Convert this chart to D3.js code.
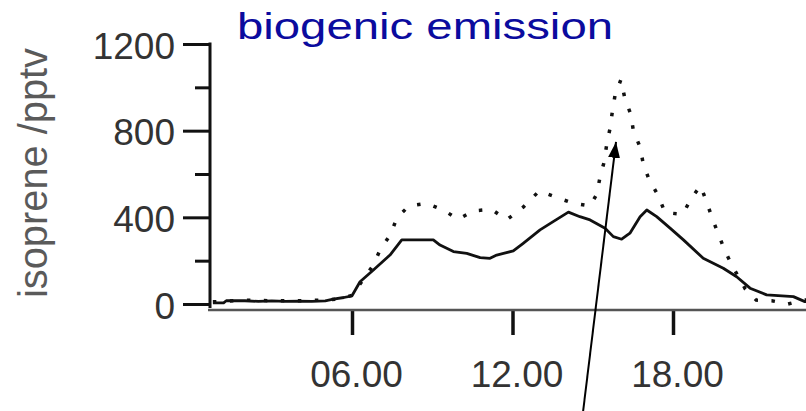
<!DOCTYPE html>
<html>
<head>
<meta charset="utf-8">
<script src="https://cdn.jsdelivr.net/npm/d3@7"></script>
<style>
  html, body { margin: 0; padding: 0; background: #fff; }
  svg { display: block; font-family: "Liberation Sans", Arial, Helvetica, sans-serif; }
</style>
</head>
<body>
<svg id="chart" width="806" height="411"></svg>
<script>
// ---- data ----
const title = "biogenic emission";
const yTitle = "isoprene /pptv";
const yMajorTicks = [0, 400, 800, 1200];
const yMinorTicks = [200, 600, 1000];
const xTicks = [6, 12, 18];

// solid line (hours, pptv)
const solidHours = [0.8, 1.2, 1.3, 2.0, 2.5, 3.0, 3.5, 4.0, 4.5, 5.0, 5.3, 5.7, 6.0, 6.3, 6.8, 7.42, 7.86, 9.04, 9.29, 9.79, 10.29, 10.79, 11.16, 11.41, 12.03, 12.4, 13.03, 13.52, 14.09, 14.52, 14.9, 15.46, 15.77, 16.08, 16.39, 16.77, 17.02, 17.39, 17.89, 18.39, 19.13, 19.88, 20.38, 20.88, 21.5, 22.5, 22.93, 23.3];
const solidValues = [5, 5, 15, 15, 12, 14, 12, 13, 12, 14, 22, 30, 38, 103, 157, 226, 296, 296, 272, 242, 234, 214, 211, 226, 245, 280, 342, 380, 424, 403, 388, 350, 311, 299, 327, 403, 434, 403, 350, 296, 211, 165, 126, 73, 42, 34, 11, 8];

// dotted line (hours, pptv)
const dotHours = [0.8, 2.0, 3.0, 4.0, 5.0, 5.6, 6.0, 6.4, 6.8, 7.05, 7.45, 7.67, 8.13, 8.79, 9.41, 9.97, 10.55, 11.22, 11.78, 12.4, 13.0, 13.62, 14.27, 14.9, 15.15, 15.27, 15.42, 15.52, 15.64, 15.73, 15.83, 16.05, 16.2, 16.42, 16.52, 16.77, 16.89, 17.1, 17.45, 17.7, 18.36, 18.7, 19.03, 19.26, 19.48, 19.72, 19.94, 20.25, 20.7, 21.11, 21.69, 22.3, 22.86, 23.3];
const dotValues = [10, 18, 15, 15, 18, 25, 40, 110, 180, 250, 323, 396, 453, 465, 434, 391, 430, 437, 388, 447, 522, 493, 465, 453, 507, 584, 653, 734, 807, 885, 961, 1035, 950, 876, 799, 724, 645, 576, 500, 422, 414, 491, 546, 470, 391, 315, 245, 168, 70, 18, 15, 0, 18, 20];

// annotation arrow (hours, pptv): from tail to head
const arrowHours = [14.64, 15.87];
const arrowValues = [-494, 748];

// ---- drawing ----
const svg = d3.select("#chart");
const x = d3.scaleLinear().domain([0, 24]).range([191.5, 833.5]);
const y = d3.scaleLinear().domain([0, 1200]).range([304, 44]);

// Y axis
const yAxis = svg.append("g").attr("transform", "translate(210,0)");
yAxis.call(d3.axisLeft(y).tickValues(yMajorTicks).tickSize(27).tickSizeOuter(0).tickPadding(8)
  .tickFormat(d3.format("d")));
yAxis.select(".domain").remove();
yAxis.selectAll(".tick line").attr("stroke", "#111").attr("stroke-width", 3);
yAxis.selectAll(".tick text").attr("font-size", 37).attr("fill", "#333")
  .attr("font-family", "Liberation Sans, Arial, sans-serif").attr("dy", "0.38em");
const yMinor = svg.append("g").attr("transform", "translate(210,0)");
yMinor.call(d3.axisLeft(y).tickValues(yMinorTicks).tickSize(15).tickFormat(""));
yMinor.select(".domain").remove();
yMinor.selectAll(".tick line").attr("stroke", "#111").attr("stroke-width", 3);
svg.append("line").attr("x1", 210).attr("x2", 210).attr("y1", y(1200) - 1.5).attr("y2", y(0) + 4)
  .attr("stroke", "#111").attr("stroke-width", 3);

// X axis
const xAxis = svg.append("g").attr("transform", "translate(0,310)");
xAxis.call(d3.axisBottom(x).tickValues(xTicks).tickSize(25).tickPadding(26)
  .tickFormat(d => d3.format("02")(d) + ".00"));
xAxis.select(".domain").remove();
xAxis.selectAll(".tick line").attr("stroke", "#111").attr("stroke-width", 3.5);
xAxis.selectAll(".tick text").attr("font-size", 37).attr("fill", "#333").attr("dx", 4)
  .attr("font-family", "Liberation Sans, Arial, sans-serif");
svg.append("line").attr("x1", 208).attr("x2", 806).attr("y1", 310).attr("y2", 310)
  .attr("stroke", "#555").attr("stroke-width", 2.5);

// Lines
const solid = solidHours.map((h, i) => [h, solidValues[i]]);
const dotted = dotHours.map((h, i) => [h, dotValues[i]]);
const line = d3.line().x(d => x(d[0])).y(d => y(d[1]));

svg.append("path").datum(dotted).attr("d", line).attr("fill", "none")
  .attr("stroke", "#111").attr("stroke-width", 3.5).attr("stroke-dasharray", "3.5,13.5");
svg.append("path").datum(solid).attr("d", line).attr("fill", "none")
  .attr("stroke", "#111").attr("stroke-width", 2.8).attr("stroke-linejoin", "round");

// Title
svg.append("text").attr("x", 237).attr("y", 39).attr("font-size", 36)
  .attr("fill", "#0b0b9e").attr("textLength", 376).attr("lengthAdjust", "spacingAndGlyphs")
  .text(title);

// Y title
svg.append("text").attr("transform", "translate(46.5,173) rotate(-90)")
  .attr("text-anchor", "middle").attr("font-size", 40).attr("fill", "#5a5a5a")
  .attr("textLength", 250).attr("lengthAdjust", "spacingAndGlyphs")
  .text(yTitle);

// Arrow
const defs = svg.append("defs");
defs.append("marker").attr("id", "ah").attr("viewBox", "0 0 16 12").attr("refX", 16).attr("refY", 6)
  .attr("markerWidth", 16).attr("markerHeight", 12).attr("markerUnits", "userSpaceOnUse")
  .attr("orient", "auto")
  .append("path").attr("d", "M0,0 L16,6 L0,12 Z").attr("fill", "#000");
svg.append("line")
  .attr("x1", x(arrowHours[0])).attr("y1", y(arrowValues[0]))
  .attr("x2", x(arrowHours[1])).attr("y2", y(arrowValues[1]))
  .attr("stroke", "#000").attr("stroke-width", 2).attr("marker-end", "url(#ah)");
</script>
</body>
</html>
